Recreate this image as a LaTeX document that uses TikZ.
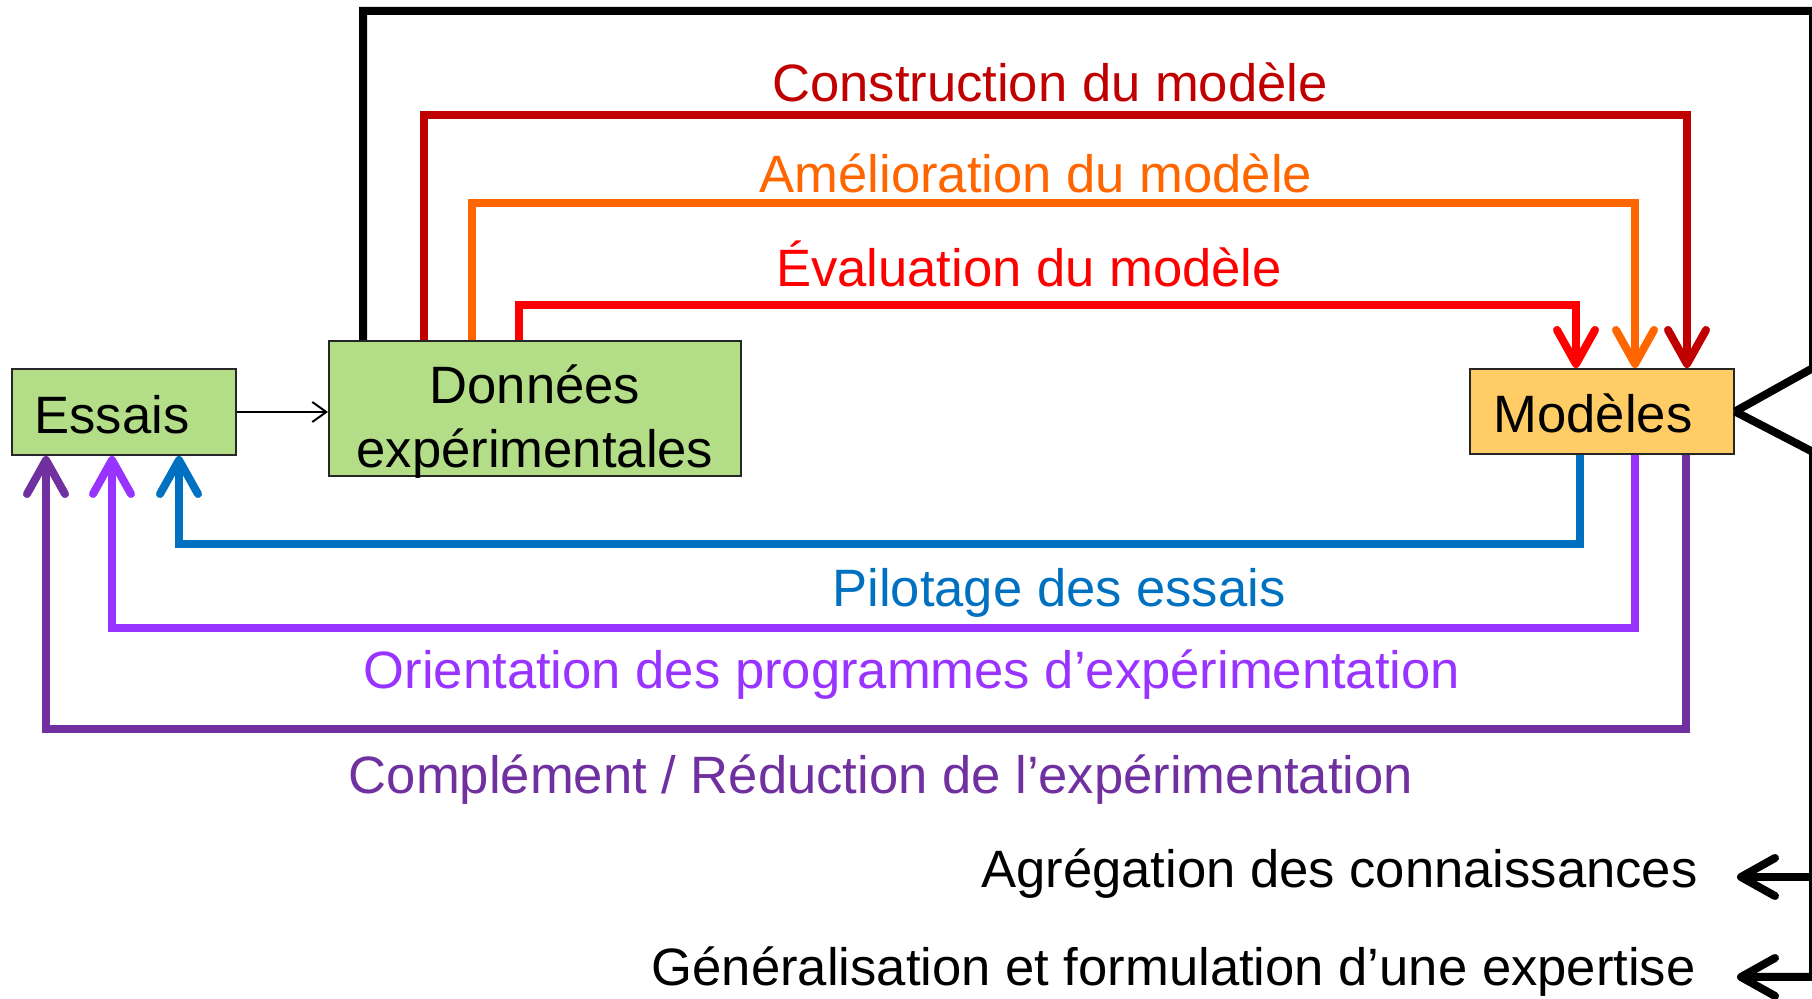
\documentclass[tikz,border=0pt]{standalone}
\usepackage{fontspec}
\setmainfont{Liberation Sans}
\usetikzlibrary{arrows.meta}
\definecolor{cDred}{RGB}{192,0,0}
\definecolor{cOrange}{RGB}{255,102,0}
\definecolor{cRed}{RGB}{255,0,0}
\definecolor{cBlue}{RGB}{0,112,192}
\definecolor{cPurple}{RGB}{153,51,255}
\definecolor{cDpurple}{RGB}{112,48,160}
\definecolor{cGreen}{RGB}{179,222,135}
\definecolor{cGold}{RGB}{255,204,102}
\begin{document}
\begin{tikzpicture}[x=0.5pt,y=-0.5pt,
  box/.style={draw=black!85,line width=1pt,inner sep=0pt},
  txt/.style={font=\fontsize{26.3}{32}\selectfont,inner sep=0pt,anchor=base},
  fat/.style={line width=4pt},
  tip/.style={-{Straight Barb[length=17pt,width=19pt,round]}}]
\useasboundingbox (0,0) rectangle (1812,999);
% boxes
\node[box,fill=cGreen,minimum width=112pt,minimum height=43pt] (essais) at (124,412) {};
\node[box,fill=cGreen,minimum width=206pt,minimum height=67.5pt] (donnees) at (535,408.5) {};
\node[box,fill=cGold,minimum width=132pt,minimum height=42.5pt] (modeles) at (1602,411.5) {};
\node[txt] (essaisT) at (112,434) {Essais};
\node[txt] (donneesA) at (535,404) {Données};
\node[txt] (donneesB) at (535,468) {expérimentales};
\node[txt] (modelesT) at (1593,433) {Modèles};
% labels
\node[txt,text=cDred] (lC) at (1050,102) {Construction du modèle};
\node[txt,text=cOrange] (lA) at (1036,193) {Amélioration du modèle};
\node[txt,text=cRed] (lE) at (1029,287) {Évaluation du modèle};
\node[txt,text=cBlue] (lP) at (1059,607) {Pilotage des essais};
\node[txt,text=cPurple] (lO) at (912,689) {Orientation des programmes d’expérimentation};
\node[txt,text=cDpurple] (lR) at (881,794) {Complément / Réduction de l’expérimentation};
\node[txt,anchor=base east] (lG1) at (1698,888) {Agrégation des connaissances};
\node[txt,anchor=base east] (lG2) at (1696,986) {Généralisation et formulation d’une expertise};
% black loop
\coordinate (cTop) at (1813,11);
\coordinate (cUp) at (1813,368);
\coordinate (cDown) at (1813,452);
\coordinate (brA) at (1813,877);
\coordinate (tipA) at (1737,877);
\coordinate (tipB) at (1737,977);
\draw[fat] (363,0 |- donnees.north) |- (cTop) -- (cUp) -- (modeles.east);
\draw[fat,tip] (modeles.east) -- (cDown) |- (tipB);
\draw[fat,tip] (brA) -- (tipA);
% coloured loops
\draw[fat,cDred,tip] (424,0 |- donnees.north) |- (1687,115) -- (1687,0 |- modeles.north);
\draw[fat,cOrange,tip] (472,0 |- donnees.north) |- (1635,203) -- (1635,0 |- modeles.north);
\draw[fat,cRed,tip] (519,0 |- donnees.north) |- (1576,305) -- (1576,0 |- modeles.north);
\draw[fat,cBlue,tip] (1580,0 |- modeles.south) |- (179,544) -- (179,0 |- essais.south);
\draw[fat,cPurple,tip] (1635,0 |- modeles.south) |- (112,628) -- (112,0 |- essais.south);
\draw[fat,cDpurple,tip] (1686,0 |- modeles.south) |- (46,729) -- (46,0 |- essais.south);
% essais -> donnees
\draw[line width=1pt,-{Straight Barb[length=7pt,width=10pt]}] (essais.east) -- (essais.east -| donnees.west);
\end{tikzpicture}
\end{document}
